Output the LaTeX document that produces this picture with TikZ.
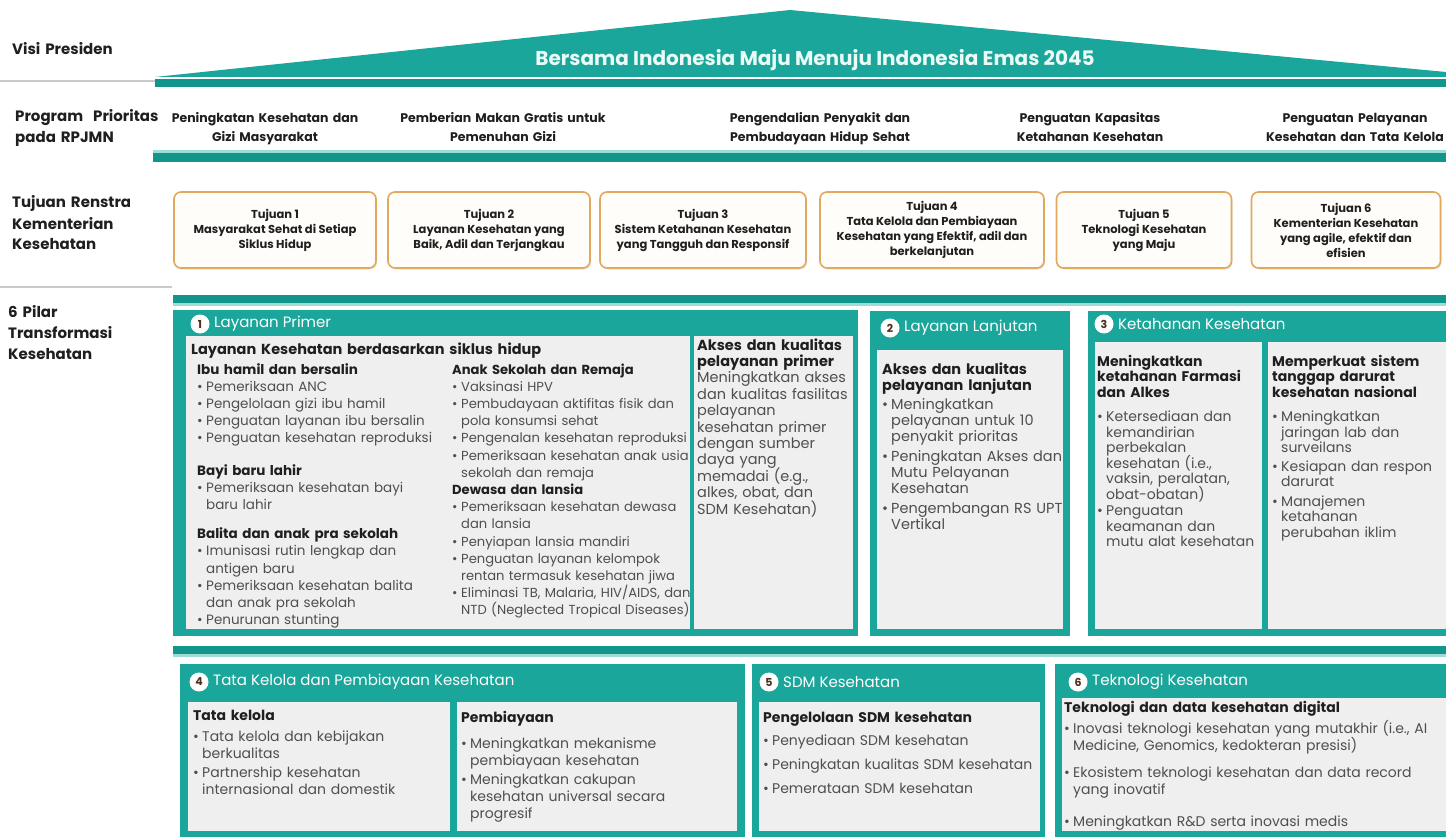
\documentclass[tikz,border=0pt]{standalone}
\usepackage{fontspec}
\setmainfont{Poppins}
\usetikzlibrary{shadows}
\definecolor{tealA}{HTML}{1AA69A}
\definecolor{tealB}{HTML}{12968C}
\definecolor{tealC}{HTML}{9EDDD6}
\definecolor{panelbg}{HTML}{EFEFEF}
\definecolor{ink}{HTML}{1F1F1F}
\definecolor{soft}{HTML}{4F4F4F}
\definecolor{gold}{HTML}{E2A85C}
\definecolor{cream}{HTML}{FFFDF9}
\definecolor{numc}{HTML}{4B2E1E}
\definecolor{rulec}{HTML}{C9C9C9}
\definecolor{titlec}{HTML}{EAFBF7}

% font size with tight leading
\newcommand{\fsz}[2]{\fontsize{#1}{#2}\selectfont\lineskiplimit=-20pt\lineskip=0pt}
% bold sub-heading inside a column
\newcommand{\hd}[1]{\noindent{\bfseries\color{ink}#1}}
% bullet item with hanging indent
\newcommand{\bitem}[1]{\par\hangindent=9pt\hangafter=1\noindent\hbox to 9pt{\textbullet\hfil}#1\par}
\newcommand{\gap}[1]{\par\vspace{#1pt}}

\begin{document}
\begin{tikzpicture}[x=1pt,y=-1pt,
  lbl/.style={anchor=base west, inner sep=0, text width=170pt, align=left, text=ink, font=\bfseries\fsz{15}{21}},
  prog/.style={anchor=base, inner sep=0, text width=280pt, align=center, text=ink, font=\bfseries\fsz{12.5}{19}},
  goal/.style={draw=gold, line width=1.6pt, rounded corners=7pt, fill=cream, inner sep=0, minimum height=76pt, align=center, text=ink, font=\bfseries\fsz{11.5}{15}, drop shadow={shadow xshift=1pt, shadow yshift=-1.5pt, opacity=0.2}},
  num/.style={circle, fill=white, inner sep=0, minimum size=19pt, text=numc, font=\bfseries\fsz{11}{11}},
  phead/.style={anchor=west, inner sep=0, text=white, font=\fsz{15}{18}},
  col/.style={anchor=base west, inner sep=0, align=left, text=soft, text width=600pt},
]
\useasboundingbox (0,0) rectangle (1446,837);
\fill[white] (0,0) rectangle (1446,837);

% row labels
\node[lbl] (visi) at (12,55) {Visi Presiden};
\node[lbl] (rpjmn) at (15,122) {Program\ \ Prioritas\\pada RPJMN};
\node[lbl] (renstra) at (12,208) {Tujuan Renstra\\Kementerian\\Kesehatan};
\node[lbl] (pilar) at (8,317) {6 Pilar\\Transformasi\\Kesehatan};
\draw[rulec, line width=1.5pt] (0,81) -- (155,81);
\draw[rulec, line width=1.5pt] (0,287) -- (172,287);

% roof with the vision
\fill[tealA] (155,77) -- (790,10) -- (1446,72) -- (1446,77) -- cycle;
\fill[tealB] (155,79.5) rectangle (1446,87);
\node[inner sep=0, text=titlec, font=\bfseries\fsz{20}{24}] (vision) at (815,60) {Bersama Indonesia Maju Menuju Indonesia Emas 2045};

% priority programmes
\node[prog] (pp1) at (265,123) {Peningkatan Kesehatan dan\\Gizi Masyarakat};
\node[prog] (pp2) at (503,123) {Pemberian Makan Gratis untuk\\Pemenuhan Gizi};
\node[prog] (pp3) at (820,123) {Pengendalian Penyakit dan\\Pembudayaan Hidup Sehat};
\node[prog] (pp4) at (1090,123) {Penguatan Kapasitas\\Ketahanan Kesehatan};
\node[prog] (pp5) at (1355,123) {Penguatan Pelayanan\\Kesehatan dan Tata Kelola};
\fill[tealC] (153,150) rectangle (1446,153);
\fill[tealB] (153,153) rectangle (1446,162);

% strategic goals
\node[goal, minimum width=202pt] (g1) at (275,230) {Tujuan 1\\Masyarakat Sehat di Setiap\\Siklus Hidup};
\node[goal, minimum width=202pt] (g2) at (489,230) {Tujuan 2\\Layanan Kesehatan yang\\Baik, Adil dan Terjangkau};
\node[goal, minimum width=206pt] (g3) at (703,230) {Tujuan 3\\Sistem Ketahanan Kesehatan\\yang Tangguh dan Responsif};
\node[goal, minimum width=224pt] (g4) at (932,230) {Tujuan 4\\Tata Kelola dan Pembiayaan\\Kesehatan yang Efektif, adil dan\\berkelanjutan};
\node[goal, minimum width=175pt] (g5) at (1144,230) {Tujuan 5\\Teknologi Kesehatan\\yang Maju};
\node[goal, minimum width=189pt] (g6) at (1346,230) {Tujuan 6\\Kementerian Kesehatan\\yang agile, efektif dan\\efisien};

% pillars, upper row
\fill[tealB] (173,295) rectangle (1446,303);
\fill[tealC] (173,303) rectangle (1446,305.5);

\fill[tealA] (173,310) rectangle (858,636);
\fill[panelbg] (186,336) rectangle (690,629);
\fill[panelbg] (694,336) rectangle (853,629);
\node[num] (n1) at (200,324) {1};
\node[phead] (h1) at (214,324) {Layanan Primer};
\node[col, text=ink, font=\bfseries\fsz{14.5}{17}] (p1t) at (191,354) {Layanan Kesehatan berdasarkan siklus hidup};
\node[col, font=\fsz{13.5}{17.2}] (p1a) at (197,374) {%
\hd{Ibu hamil dan bersalin}
\bitem{Pemeriksaan ANC}
\bitem{Pengelolaan gizi ibu hamil}
\bitem{Penguatan layanan ibu bersalin}
\bitem{Penguatan kesehatan reproduksi}
\gap{15}
\hd{Bayi baru lahir}
\bitem{Pemeriksaan kesehatan bayi\newline baru lahir}
\gap{12}
\hd{Balita dan anak pra sekolah}
\bitem{Imunisasi rutin lengkap dan\newline antigen baru}
\bitem{Pemeriksaan kesehatan balita\newline dan anak pra sekolah}
\bitem{Penurunan stunting}};
\node[col, font=\fsz{13.1}{17.2}] (p1b) at (452,374) {%
\hd{Anak Sekolah dan Remaja}
\bitem{Vaksinasi HPV}
\bitem{Pembudayaan aktifitas fisik dan\newline pola konsumsi sehat}
\bitem{Pengenalan kesehatan reproduksi}
\bitem{Pemeriksaan kesehatan anak usia\newline sekolah dan remaja}
\hd{Dewasa dan lansia}
\bitem{Pemeriksaan kesehatan dewasa\newline dan lansia}
\bitem{Penyiapan lansia mandiri}
\bitem{Penguatan layanan kelompok\newline rentan termasuk kesehatan jiwa}
\bitem{Eliminasi TB, Malaria, HIV/AIDS, dan\newline NTD (Neglected Tropical Diseases)}};
\node[col, font=\fsz{14.5}{16.4}] (p1c) at (697,350) {%
\hd{Akses dan kualitas\newline pelayanan primer}
\par\noindent Meningkatkan akses\newline dan kualitas fasilitas\newline pelayanan\newline kesehatan primer\newline dengan sumber\newline daya yang\newline memadai (e.g.,\newline alkes, obat, dan\newline SDM Kesehatan)\par};

\fill[tealA] (870,311) rectangle (1070,636);
\fill[panelbg] (877,350) rectangle (1063,629);
\node[num] (n2) at (890,328) {2};
\node[phead] (h2) at (904,328) {Layanan Lanjutan};
\node[col, font=\fsz{14.5}{16}] (p2) at (882,374) {%
\hd{Akses dan kualitas\newline pelayanan lanjutan}
\gap{3}
\bitem{Meningkatkan\newline pelayanan untuk 10\newline penyakit prioritas}
\gap{4}
\bitem{Peningkatan Akses dan\newline Mutu Pelayanan\newline Kesehatan}
\gap{4}
\bitem{Pengembangan RS UPT\newline Vertikal}};

\fill[tealA] (1088,311) rectangle (1446,636);
\fill[panelbg] (1095,342) rectangle (1262,629);
\fill[panelbg] (1268,342) rectangle (1446,629);
\node[num] (n3) at (1104,324) {3};
\node[phead] (h3) at (1118,324) {Ketahanan Kesehatan};
\node[col, font=\fsz{14}{15.5}] (p3a) at (1097,366) {%
\hd{Meningkatkan\newline ketahanan Farmasi\newline dan Alkes}
\gap{9}
\bitem{Ketersediaan dan\newline kemandirian\newline perbekalan\newline kesehatan (i.e.,\newline vaksin, peralatan,\newline obat-obatan)}
\gap{1}
\bitem{Penguatan\newline keamanan dan\newline mutu alat kesehatan}};
\node[col, font=\fsz{14}{15.5}] (p3b) at (1272,366) {%
\hd{Memperkuat sistem\newline tanggap darurat\newline kesehatan nasional}
\gap{9}
\bitem{Meningkatkan\newline jaringan lab dan\newline surveilans}
\gap{3}
\bitem{Kesiapan dan respon\newline darurat}
\gap{4}
\bitem{Manajemen\newline ketahanan\newline perubahan iklim}};

% pillars, lower row
\fill[tealB] (173,646) rectangle (1446,654);
\fill[tealC] (173,654) rectangle (1446,656.5);

\fill[tealA] (180,664) rectangle (745,840);
\fill[panelbg] (188,702) rectangle (450,831);
\fill[panelbg] (457,702) rectangle (737,831);
\node[num] (n4) at (199,682) {4};
\node[phead] (h4) at (213,682) {Tata Kelola dan Pembiayaan Kesehatan};
\node[col, font=\fsz{14}{17}] (p4a) at (193,720) {%
\hd{Tata kelola}
\gap{4}
\bitem{Tata kelola dan kebijakan\newline berkualitas}
\gap{2}
\bitem{Partnership kesehatan\newline internasional dan domestik}};
\node[col, font=\fsz{14}{17}] (p4b) at (461,722) {%
\hd{Pembiayaan}
\gap{9}
\bitem{Meningkatkan mekanisme\newline pembiayaan kesehatan}
\gap{2}
\bitem{Meningkatkan cakupan\newline kesehatan universal secara\newline progresif}};

\fill[tealA] (752,664) rectangle (1045,840);
\fill[panelbg] (759,702) rectangle (1040,831);
\node[num] (n5) at (769,682) {5};
\node[phead] (h5) at (783,682) {SDM Kesehatan};
\node[col, font=\fsz{14}{17}] (p5) at (763,722) {%
\hd{Pengelolaan SDM kesehatan}
\gap{6}
\bitem{Penyediaan SDM kesehatan}
\gap{7}
\bitem{Peningkatan kualitas SDM kesehatan}
\gap{7}
\bitem{Pemerataan SDM kesehatan}};

\fill[tealA] (1055,664) rectangle (1446,840);
\fill[panelbg] (1062,698) rectangle (1446,831);
\node[num] (n6) at (1078,682) {6};
\node[phead] (h6) at (1092,682) {Teknologi Kesehatan};
\node[col, font=\fsz{14}{17}] (p6) at (1064,712) {%
\hd{Teknologi dan data kesehatan digital}
\gap{4}
\bitem{Inovasi teknologi kesehatan yang mutakhir (i.e., AI\newline Medicine, Genomics, kedokteran presisi)}
\gap{10}
\bitem{Ekosistem teknologi kesehatan dan data record\newline yang inovatif}
\gap{15}
\bitem{Meningkatkan R\&D serta inovasi medis}};
\end{tikzpicture}
\end{document}
